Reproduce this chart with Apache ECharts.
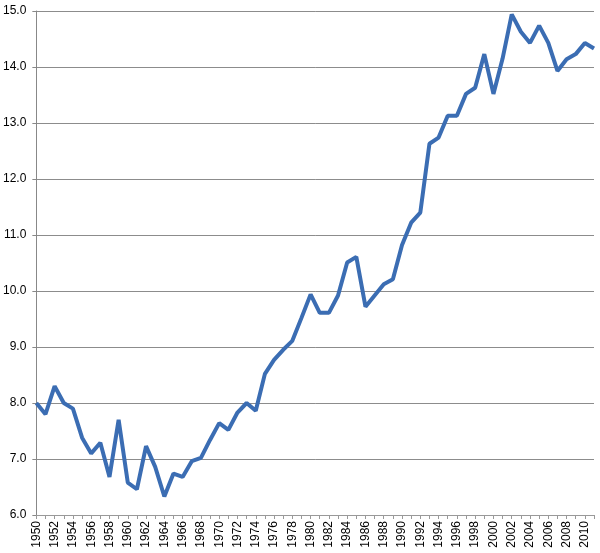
<!DOCTYPE html>
<html>
<head>
<meta charset="utf-8">
<script src="https://cdn.jsdelivr.net/npm/echarts@6/dist/echarts.min.js"></script>
<style>
  html, body { margin: 0; padding: 0; background: #fff; }
  #main { width: 600px; height: 553px; }
</style>
</head>
<body>
<div id="main"></div>
<script>
// years 1950..2011
var years = [];
for (var y = 1950; y <= 2011; y++) { years.push(String(y)); }

var values = [
  8.0, 7.8, 8.3, 8.0, 7.9, 7.38, 7.1, 7.29, 6.68, 7.7,
  6.58, 6.46, 7.23, 6.86, 6.33, 6.74, 6.68, 6.96, 7.02, 7.34,
  7.64, 7.52, 7.83, 8.0, 7.86, 8.52, 8.77, 8.95, 9.11, 9.52,
  9.94, 9.61, 9.61, 9.92, 10.51, 10.61, 9.72, 9.92, 10.12, 10.21,
  10.82, 11.22, 11.4, 12.63, 12.74, 13.13, 13.13, 13.52, 13.63, 14.23,
  13.52, 14.15, 14.94, 14.63, 14.43, 14.74, 14.43, 13.93, 14.14, 14.23,
  14.43, 14.33
];

var myChart = echarts.init(document.getElementById('main'));
var option = {
    animation: false,
    grid: {
        left: 36,
        right: 6,
        top: 11,
        bottom: 38
    },
    xAxis: {
        type: 'category',
        boundaryGap: false,
        data: years,
        axisLine: { lineStyle: { color: '#999', width: 1 } },
        axisTick: {
            interval: 0,
            length: 4,
            lineStyle: { color: '#999' }
        },
        axisLabel: {
            interval: 1,
            rotate: 90,
            margin: 6,
            color: '#000',
            fontFamily: 'Liberation Sans, Arial',
            fontSize: 12
        },
        splitLine: { show: false }
    },
    yAxis: {
        type: 'value',
        min: 6,
        max: 15,
        interval: 1,
        axisLine: { show: true, lineStyle: { color: '#888', width: 1 } },
        axisTick: { show: true, length: 4, lineStyle: { color: '#888' } },
        axisLabel: {
            margin: 10,
            color: '#000',
            fontFamily: 'Liberation Sans, Arial',
            fontSize: 12,
            formatter: function (v) { return v.toFixed(1); }
        },
        splitLine: { lineStyle: { color: '#8c8c8c', width: 1 } }
    },
    series: [{
        type: 'line',
        data: values,
        symbol: 'none',
        lineStyle: { color: '#3b6db3', width: 4 },
        itemStyle: { color: '#3b6db3' }
    }]
};
myChart.setOption(option);
</script>
</body>
</html>
